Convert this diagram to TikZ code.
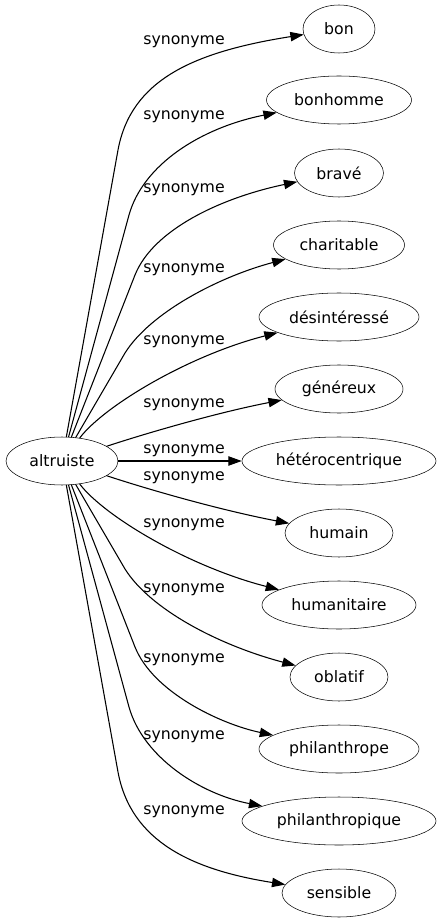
\documentclass[tikz,border=0pt]{standalone}
\usepackage{fontspec}
\setmainfont{DejaVu Sans}
\usetikzlibrary{arrows.meta,shapes.geometric}

\begin{document}
\begin{tikzpicture}[x=0.75pt,y=-0.75pt,line cap=round,
    word/.style={draw,ellipse,inner sep=0pt,minimum height=36pt,font=\fontsize{11.8}{14}\selectfont},
    rel/.style={inner sep=0pt,font=\fontsize{11.8}{14}\selectfont},
    syn/.style={line width=0.8pt,-{Triangle[length=10pt,width=7pt]}}]
    \useasboundingbox (0,0) rectangle (441,923);
    \node[word,minimum width=84pt] (altruiste) at (62,461) {altruiste};
    \node[word,minimum width=54pt] (bon) at (339,29) {bon};
    \node[word,minimum width=108.75pt] (bonhomme) at (339,100) {bonhomme};
    \node[word,minimum width=66.75pt] (brave) at (339,173) {bravé};
    \node[word,minimum width=98.25pt] (charitable) at (339,245) {charitable};
    \node[word,minimum width=120pt] (desinteresse) at (339,317) {désintéressé};
    \node[word,minimum width=96pt] (genereux) at (339,389) {généreux};
    \node[word,minimum width=145.5pt] (heterocentrique) at (339,461) {hétérocentrique};
    \node[word,minimum width=81pt] (humain) at (339,533) {humain};
    \node[word,minimum width=115.5pt] (humanitaire) at (339,605) {humanitaire};
    \node[word,minimum width=73.5pt] (oblatif) at (339,677) {oblatif};
    \node[word,minimum width=120pt] (philanthrope) at (339,749) {philanthrope};
    \node[word,minimum width=145.5pt] (philanthropique) at (339,821) {philanthropique};
    \node[word,minimum width=85.5pt] (sensible) at (339,893) {sensible};

    \node[rel] (s-bon) at (184,42) {synonyme};
    \node[rel] (s-bonhomme) at (184,117) {synonyme};
    \node[rel] (s-brave) at (184,190) {synonyme};
    \node[rel] (s-charitable) at (184,270) {synonyme};
    \node[rel] (s-desinteresse) at (184,342) {synonyme};
    \node[rel] (s-genereux) at (184,405) {synonyme};
    \node[rel] (s-heterocentrique) at (184,451) {synonyme};
    \node[rel] (s-humain) at (184,478) {synonyme};
    \node[rel] (s-humanitaire) at (184,525) {synonyme};
    \node[rel] (s-oblatif) at (184,590) {synonyme};
    \node[rel] (s-philanthrope) at (184,660) {synonyme};
    \node[rel] (s-philanthropique) at (184,737) {synonyme};
    \node[rel] (s-sensible) at (184,812) {synonyme};

    \draw[syn] (altruiste) -- (118,150) .. controls (131,80) and (193,52) .. (bon);
    \draw[syn] (altruiste) -- (129,215) .. controls (143,165) and (200,128) .. (bonhomme);
    \draw[syn] (altruiste) -- (135,275) .. controls (153,230) and (220,198) .. (brave);
    \draw[syn] (altruiste) -- (125,353) .. controls (150,313) and (218,277) .. (charitable);
    \draw[syn] (altruiste) .. controls (105,405) and (190,355) .. (desinteresse);
    \draw[syn] (altruiste) .. controls (150,432) and (220,412) .. (genereux);
    \draw[syn] (altruiste) -- (heterocentrique);
    \draw[syn] (altruiste) .. controls (150,490) and (220,510) .. (humain);
    \draw[syn] (altruiste) .. controls (105,517) and (190,567) .. (humanitaire);
    \draw[syn] (altruiste) -- (125,569) .. controls (150,609) and (218,645) .. (oblatif);
    \draw[syn] (altruiste) -- (135,647) .. controls (153,692) and (220,724) .. (philanthrope);
    \draw[syn] (altruiste) -- (129,707) .. controls (143,757) and (200,794) .. (philanthropique);
    \draw[syn] (altruiste) -- (118,772) .. controls (131,842) and (193,870) .. (sensible);
\end{tikzpicture}
\end{document}
